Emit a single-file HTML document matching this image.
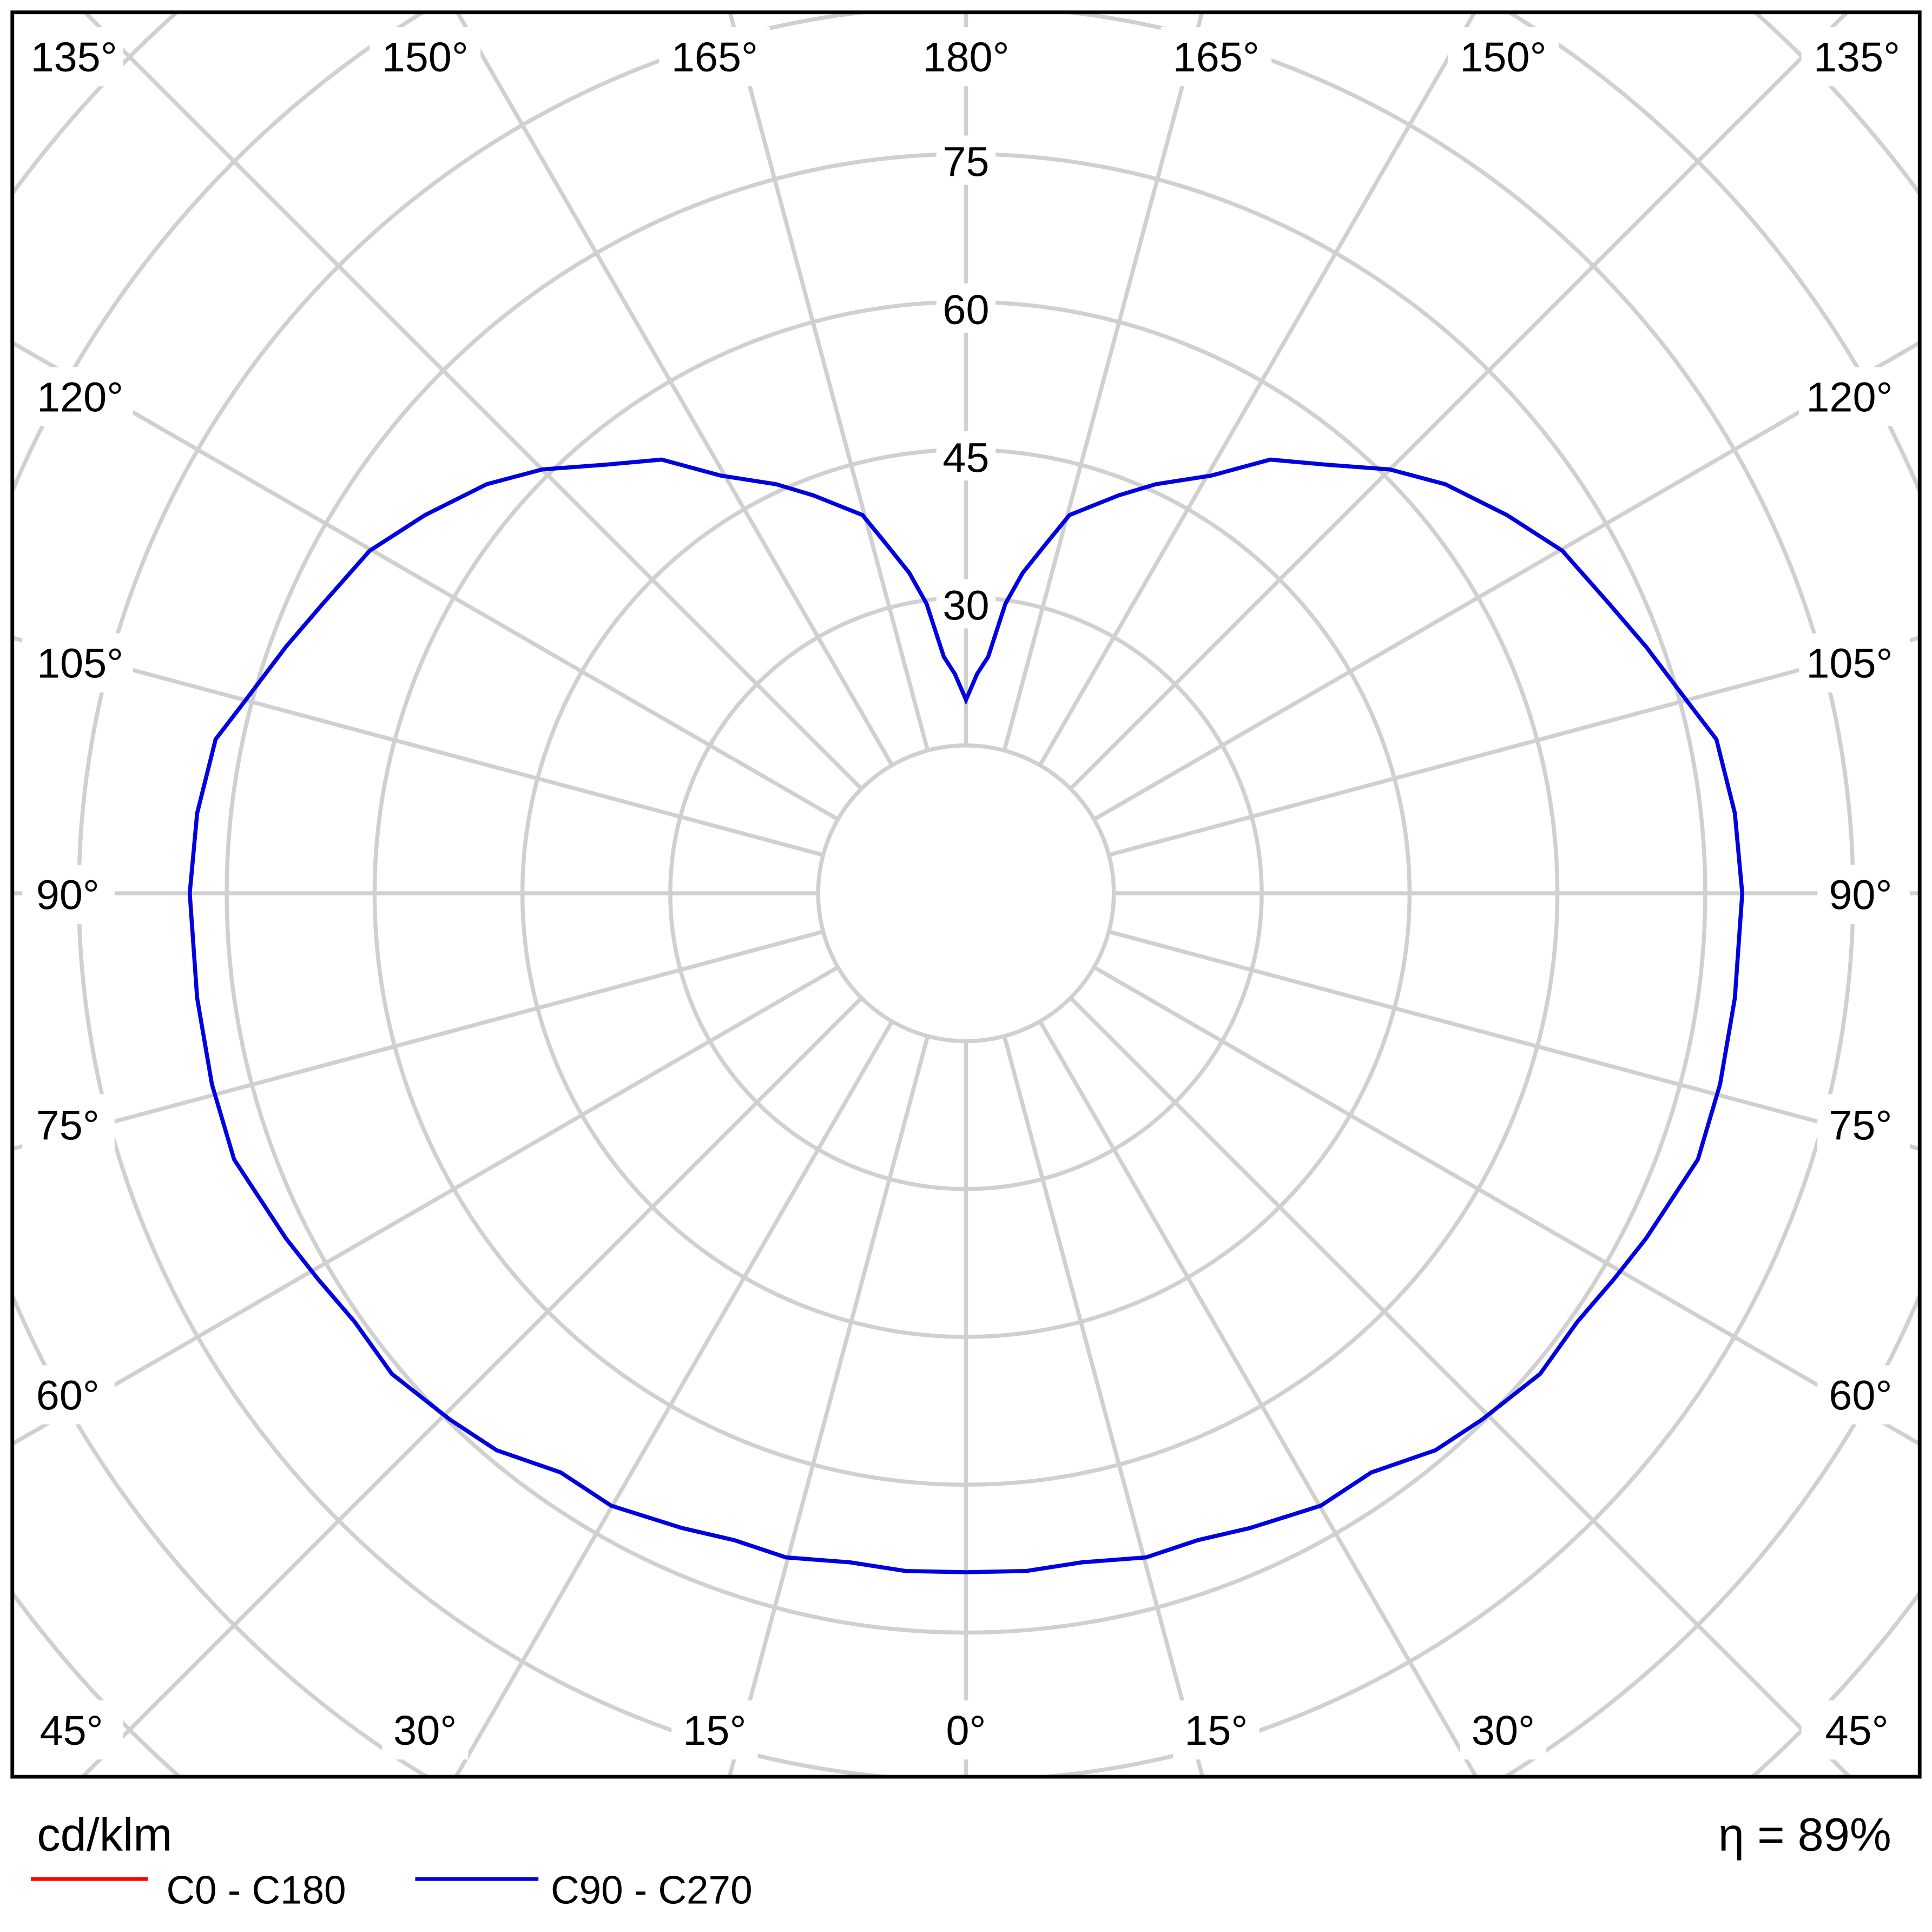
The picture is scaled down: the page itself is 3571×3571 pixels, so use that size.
<!DOCTYPE html>
<html><head><meta charset="utf-8"><style>html,body{margin:0;padding:0;background:#fff;width:3571px;height:3571px;overflow:hidden}svg{display:block}</style></head>
<body>
<svg xmlns="http://www.w3.org/2000/svg" width="3571" height="3571" viewBox="0 0 1568 1568">
<defs><clipPath id="c"><rect x="10" y="10" width="1548" height="1432"/></clipPath></defs>
<rect width="1568" height="1568" fill="#fff"/>
<g clip-path="url(#c)" stroke="#d0d0d0" stroke-width="3.3" fill="none">
<circle cx="784" cy="725" r="120"/><circle cx="784" cy="725" r="240"/><circle cx="784" cy="725" r="360"/>
<circle cx="784" cy="725" r="480"/><circle cx="784" cy="725" r="600"/><circle cx="784" cy="725" r="720"/>
<circle cx="784" cy="725" r="840"/><circle cx="784" cy="725" r="960"/>
</g>
<g stroke="#d0d0d0" stroke-width="3.3">
<line x1="784" y1="845" x2="784" y2="1442"/><line x1="784" y1="605" x2="784" y2="10"/>
<line x1="904" y1="725" x2="1558" y2="725"/><line x1="664" y1="725" x2="10" y2="725"/>
<line x1="815.1" y1="840.9" x2="976" y2="1442"/><line x1="752.9" y1="840.9" x2="592" y2="1442"/>
<line x1="815.1" y1="609.1" x2="975.6" y2="10"/><line x1="752.9" y1="609.1" x2="592.4" y2="10"/>
<line x1="844" y1="828.9" x2="1198" y2="1442"/><line x1="724" y1="828.9" x2="370" y2="1442"/>
<line x1="844" y1="621.1" x2="1196.8" y2="10"/><line x1="724" y1="621.1" x2="371.2" y2="10"/>
<line x1="868.9" y1="809.9" x2="1501" y2="1442"/><line x1="699.1" y1="809.9" x2="67" y2="1442"/>
<line x1="868.9" y1="640.1" x2="1499" y2="10"/><line x1="699.1" y1="640.1" x2="69" y2="10"/>
<line x1="887.9" y1="785" x2="1558" y2="1171.9"/><line x1="680.1" y1="785" x2="10" y2="1171.9"/>
<line x1="887.9" y1="665" x2="1558" y2="278.1"/><line x1="680.1" y1="665" x2="10" y2="278.1"/>
<line x1="899.9" y1="756.1" x2="1558" y2="932.4"/><line x1="668.1" y1="756.1" x2="10" y2="932.4"/>
<line x1="899.9" y1="693.9" x2="1558" y2="517.6"/><line x1="668.1" y1="693.9" x2="10" y2="517.6"/>
</g>
<g fill="#fff">
<rect x="18" y="22" width="82" height="48"/><rect x="300" y="22" width="90" height="48"/><rect x="535" y="22" width="90" height="48"/><rect x="740" y="22" width="88" height="48"/><rect x="942" y="22" width="90" height="48"/><rect x="1175" y="22" width="90" height="48"/><rect x="1462" y="22" width="88" height="48"/>
<rect x="18" y="298" width="90" height="48"/><rect x="18" y="514" width="90" height="48"/><rect x="18" y="702" width="75" height="48"/><rect x="18" y="888" width="75" height="48"/><rect x="18" y="1108" width="75" height="48"/><rect x="18" y="1380" width="82" height="48"/>
<rect x="1460" y="298" width="90" height="48"/><rect x="1460" y="514" width="90" height="48"/><rect x="1475" y="702" width="75" height="48"/><rect x="1475" y="888" width="75" height="48"/><rect x="1475" y="1108" width="75" height="48"/><rect x="1462" y="1380" width="88" height="48"/>
<rect x="755" y="1380" width="58" height="48"/><rect x="545" y="1380" width="70" height="48"/><rect x="310" y="1380" width="70" height="48"/><rect x="952" y="1380" width="70" height="48"/><rect x="1185" y="1380" width="70" height="48"/>
<rect x="760" y="110" width="48" height="40"/><rect x="760" y="230" width="48" height="40"/><rect x="760" y="350" width="48" height="40"/><rect x="760" y="470" width="48" height="40"/>
</g>
<g font-family="Liberation Sans, DejaVu Sans, sans-serif" font-size="34" fill="#000" text-anchor="middle">
<text x="60" y="58">135°</text><text x="345" y="58">150°</text><text x="580" y="58">165°</text><text x="784" y="58">180°</text><text x="987" y="58">165°</text><text x="1220" y="58">150°</text><text x="1507" y="58">135°</text>
<text x="65" y="334">120°</text><text x="65" y="550">105°</text><text x="55" y="738">90°</text><text x="55" y="925">75°</text><text x="55" y="1144">60°</text><text x="58" y="1416">45°</text>
<text x="1501" y="334">120°</text><text x="1501" y="550">105°</text><text x="1510" y="738">90°</text><text x="1510" y="925">75°</text><text x="1510" y="1144">60°</text><text x="1507" y="1416">45°</text>
<text x="784" y="1416">0°</text><text x="580" y="1416">15°</text><text x="345" y="1416">30°</text><text x="987" y="1416">15°</text><text x="1220" y="1416">30°</text>
<text x="784" y="143">75</text><text x="784" y="263">60</text><text x="784" y="383">45</text><text x="784" y="503">30</text>
</g>
<polyline fill="none" stroke="#ff0000" stroke-width="3" points="784,1276 735,1275 690,1268 638,1264 596,1250 553,1240 496,1222 455,1195 403,1177 365,1152 318,1115 288,1073 258,1038 232,1005 190,941 172,880 160,810 154,725 160,660 175,600 198,570 232,525 262,490 300,447 345,418 395,393 440,381 493,377 537,373 585,386 630,393 660,402 700,418 718,440 738,465 752,490 766,533 775,547 784,568 793,547 802,533 816,490 830,465 850,440 868,418 908,402 938,393 983,386 1031,373 1075,377 1128,381 1173,393 1223,418 1268,447 1306,490 1336,525 1370,570 1393,600 1408,660 1414,725 1408,810 1396,880 1378,941 1336,1005 1310,1038 1280,1073 1250,1115 1203,1152 1165,1177 1113,1195 1072,1222 1015,1240 972,1250 930,1264 878,1268 833,1275 784,1276"/>
<polyline fill="none" stroke="#0000e0" stroke-width="3.3" points="784,1276 735,1275 690,1268 638,1264 596,1250 553,1240 496,1222 455,1195 403,1177 365,1152 318,1115 288,1073 258,1038 232,1005 190,941 172,880 160,810 154,725 160,660 175,600 198,570 232,525 262,490 300,447 345,418 395,393 440,381 493,377 537,373 585,386 630,393 660,402 700,418 718,440 738,465 752,490 766,533 775,547 784,568 793,547 802,533 816,490 830,465 850,440 868,418 908,402 938,393 983,386 1031,373 1075,377 1128,381 1173,393 1223,418 1268,447 1306,490 1336,525 1370,570 1393,600 1408,660 1414,725 1408,810 1396,880 1378,941 1336,1005 1310,1038 1280,1073 1250,1115 1203,1152 1165,1177 1113,1195 1072,1222 1015,1240 972,1250 930,1264 878,1268 833,1275 784,1276"/>
<rect x="10" y="10" width="1548" height="1432" fill="none" stroke="#000" stroke-width="3"/>
<g font-family="Liberation Sans, DejaVu Sans, sans-serif" fill="#000">
<text x="30" y="1502" font-size="38">cd/klm</text>
<text x="1535" y="1502" font-size="38" text-anchor="end">η = 89%</text>
<line x1="25" y1="1525" x2="120" y2="1525" stroke="#ff0000" stroke-width="3"/>
<text x="135" y="1545" font-size="32">C0 - C180</text>
<line x1="337" y1="1525" x2="437" y2="1525" stroke="#0000e0" stroke-width="3"/>
<text x="447" y="1545" font-size="32">C90 - C270</text>
</g>
</svg>
</body></html>
